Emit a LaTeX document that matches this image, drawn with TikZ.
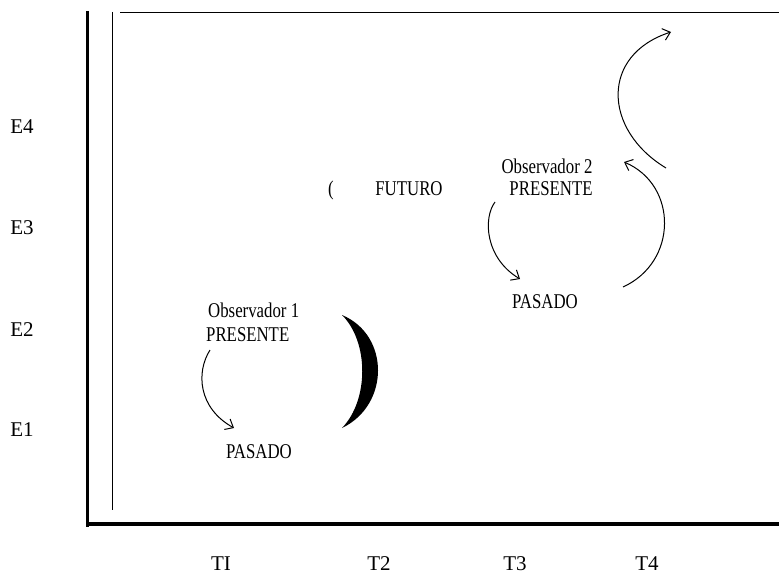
\documentclass[tikz,border=0pt]{standalone}
\usepackage{fontspec}
\setmainfont{Liberation Serif}
\newfontfamily\condfont[FakeStretch=0.8]{Liberation Serif}
\usetikzlibrary{arrows.meta}
\begin{document}
\begin{tikzpicture}[x=1pt,y=-1pt,
  axis/.style={line width=3.5pt},
  frame/.style={line width=1.1pt},
  curarrow/.style={line width=1pt,-{Straight Barb[length=7pt,width=12pt,line width=1pt]}},
  axlabel/.style={font=\fontsize{21}{23}\selectfont,anchor=base,inner sep=0pt},
  txt/.style={font=\condfont\fontsize{21}{23}\selectfont,anchor=base,inner sep=0pt}]
\useasboundingbox (0,0) rectangle (779,575);
% axes
\coordinate (ytop) at (87.5,11);
\coordinate (orig) at (87.5,527);
\coordinate (xstart) at (86,524);
\coordinate (xend) at (779,524);
\draw[axis] (ytop) -- (orig);
\draw[axis] (xstart) -- (xend);
% frame lines
\coordinate (ftop) at (112.5,12);
\coordinate (fbot) at (112.5,510);
\coordinate (htop) at (120,12.5);
\coordinate (hend) at (779,12.5);
\draw[frame] (ftop) -- (fbot);
\draw[frame] (htop) -- (hend);
% E labels
\node[axlabel] (e4) at (22,134) {E4};
\node[axlabel] (e3) at (22,234) {E3};
\node[axlabel] (e2) at (22,336) {E2};
\node[axlabel] (e1) at (22,436) {E1};
% T labels
\node[axlabel] (t1) at (221,570) {TI};
\node[axlabel] (t2) at (379,570) {T2};
\node[axlabel] (t3) at (515,570) {T3};
\node[axlabel] (t4) at (647,570) {T4};
% observer 1
\node[txt,anchor=base west] (obs1) at (208,317) {Observador 1};
\node[txt,anchor=base west] (pres1) at (206,341) {PRESENTE};
\node[txt] (pas1) at (259,458) {PASADO};
% futuro
\node[txt] (par) at (331,195) {(};
\node[txt] (fut) at (409,195) {FUTURO};
% observer 2
\node[txt] (obs2) at (547,173) {Observador 2};
\node[txt] (pres2) at (551,195) {PRESENTE};
\node[txt] (pas2) at (545,308) {PASADO};
% big bracket
\coordinate (bt) at (342,315);
\coordinate (bb) at (342,428);
\fill (bt) .. controls (390,335) and (390,405) .. (bb)
      .. controls (369,400) and (369,342) .. (bt) -- cycle;
% arrows
\coordinate (a1s) at (210,350);
\coordinate (a1e) at (234,428);
\draw[curarrow] (a1s) .. controls (196,372) and (198,408) .. (a1e);
\coordinate (a2s) at (495,202);
\coordinate (a2e) at (520,279);
\draw[curarrow] (a2s) .. controls (483,218) and (485,258) .. (a2e);
\coordinate (a3s) at (623,287);
\coordinate (a3e) at (624,162);
\draw[curarrow] (a3s) .. controls (678,262) and (678,185) .. (a3e);
\coordinate (a4s) at (666,168);
\coordinate (a4e) at (671,32);
\draw[curarrow] (a4s) .. controls (603,130) and (600,55) .. (a4e);
\end{tikzpicture}
\end{document}
